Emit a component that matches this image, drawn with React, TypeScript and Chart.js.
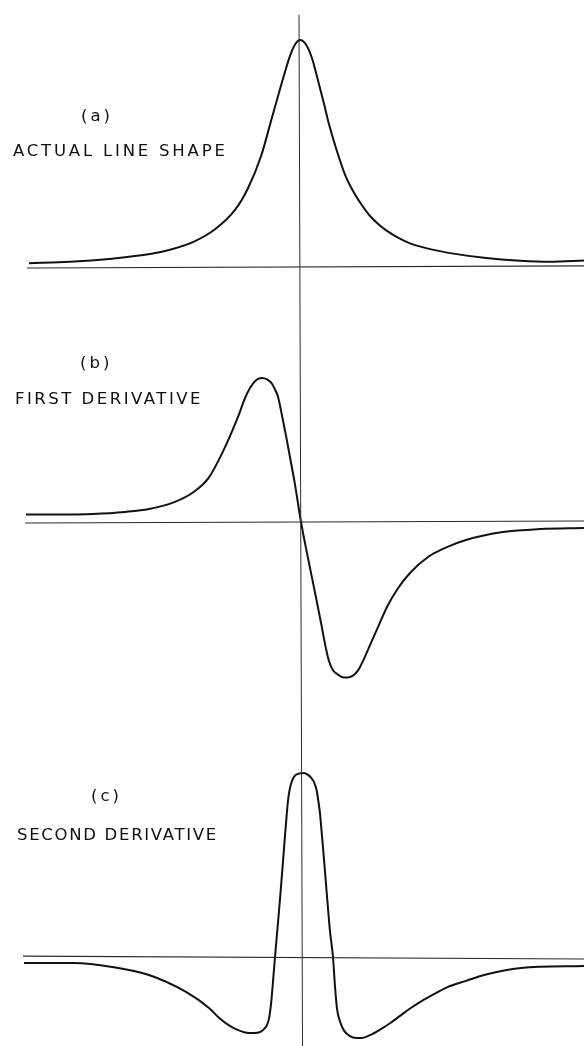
import React, { useEffect, useRef } from "react";
import { Chart, registerables } from "chart.js";

Chart.register(...registerables);

// (a) actual line shape: x offset from line centre (arb. units), normalised amplitude
const shapeX = [-27.0, -22.9, -18.7, -14.9, -13.1, -10.5, -8.4, -6.4, -5.1, -3.8, -2.7, -1.6, -0.9, -0.4, 0.1, 0.7, 1.3, 1.8, 2.5, 3.0, 3.6, 4.6, 5.5, 6.3, 7.1, 8.0, 8.8, 9.9, 11.1, 12.9, 15.6, 18.5, 22.1, 25.1, 28.5];
const shapeY = [0.021, 0.027, 0.041, 0.061, 0.078, 0.116, 0.17, 0.255, 0.35, 0.49, 0.66, 0.83, 0.93, 0.98, 1.0, 0.98, 0.92, 0.84, 0.72, 0.63, 0.54, 0.41, 0.33, 0.275, 0.228, 0.19, 0.163, 0.133, 0.108, 0.085, 0.062, 0.045, 0.032, 0.027, 0.033];

// (b) first derivative
const firstX = [-27.3, -23.9, -20.6, -17.4, -15.0, -12.4, -10.5, -9.0, -7.6, -6.1, -5.4, -4.9, -4.3, -3.7, -3.2, -2.7, -2.4, -2.1, -1.7, -1.3, -0.9, -0.4, 0.2, 1.0, 1.6, 2.2, 2.7, 3.0, 3.4, 3.9, 4.5, 5.1, 5.6, 6.0, 6.5, 7.0, 7.9, 8.8, 9.9, 11.1, 12.9, 14.8, 16.7, 20.4, 24.1, 28.5];
const firstY = [0.052, 0.052, 0.056, 0.07, 0.09, 0.14, 0.21, 0.31, 0.49, 0.73, 0.86, 0.93, 0.985, 1.0, 0.99, 0.96, 0.92, 0.87, 0.74, 0.6, 0.45, 0.26, 0.0, -0.285, -0.49, -0.7, -0.88, -0.965, -1.03, -1.06, -1.08, -1.076, -1.055, -1.02, -0.95, -0.87, -0.73, -0.59, -0.46, -0.354, -0.243, -0.174, -0.125, -0.07, -0.049, -0.042];

// (c) second derivative
const secondX = [-27.5, -22.5, -18.7, -15.0, -11.3, -9.0, -8.0, -7.0, -6.2, -5.4, -4.5, -3.8, -3.5, -3.2, -3.0, -2.85, -2.7, -2.55, -2.4, -2.2, -1.9, -1.6, -1.4, -1.25, -1.1, -0.95, -0.8, -0.6, -0.3, 0.1, 0.5, 0.9, 1.2, 1.5, 1.75, 1.9, 2.1, 2.2, 2.5, 2.8, 3.1, 3.4, 3.6, 3.8, 4.1, 4.5, 5.1, 5.7, 6.3, 7.1, 8.1, 9.1, 10.1, 11.1, 12.1, 12.9, 14.8, 16.7, 18.5, 22.2, 28.5];
const secondY = [-0.033, -0.033, -0.054, -0.098, -0.19, -0.277, -0.33, -0.372, -0.395, -0.41, -0.413, -0.405, -0.392, -0.37, -0.335, -0.28, -0.2, -0.1, 0.0, 0.125, 0.315, 0.52, 0.66, 0.76, 0.85, 0.905, 0.94, 0.97, 0.99, 0.998, 1.0, 0.99, 0.975, 0.95, 0.91, 0.86, 0.78, 0.72, 0.53, 0.33, 0.14, 0.0, -0.16, -0.28, -0.35, -0.4, -0.43, -0.44, -0.44, -0.425, -0.395, -0.36, -0.32, -0.28, -0.245, -0.22, -0.165, -0.13, -0.098, -0.06, -0.049];

// zero lines (baselines) of each trace: [start x, end x], [start y, end y]
const baseAX = [-27.2, 28.5];
const baseAY = [0, 0.009];
const baseBX = [-27.4, 28.5];
const baseBY = [-0.007, 0.007];
const baseCX = [-27.6, 28.5];
const baseCY = [0.005, -0.011];
// line-centre marker (x = 0), drawn in units of trace (a)
const centreX = [0, 0.35];
const centreY = [1.11, -3.412];

const labels = [
  { text: "(a)", left: 81, base: 122, ls: 3 },
  { text: "ACTUAL LINE SHAPE", left: 13, base: 157, ls: 2.8 },
  { text: "(b)", left: 80, base: 369, ls: 3 },
  { text: "FIRST DERIVATIVE", left: 15, base: 405, ls: 2.5 },
  { text: "(c)", left: 91, base: 802, ls: 3 },
  { text: "SECOND DERIVATIVE", left: 17, base: 841, ls: 1.7 },
];

const W = 584;
const H = 1046;
const zip = (xs: number[], ys: number[]) => xs.map((x, i) => ({ x, y: ys[i] }));

// y-axis ranges from the pixel row of each trace's zero line and its unit height
const range = (zeroPx: number, unitPx: number) => ({ min: (zeroPx - H) / unitPx, max: zeroPx / unitPx });

export default function App() {
  const ref = useRef<HTMLCanvasElement | null>(null);
  useEffect(() => {
    if (!ref.current) return;
    const curve = { borderColor: "#111", borderWidth: 2, pointRadius: 0, cubicInterpolationMode: "monotone" as const, fill: false, borderJoinStyle: "round" as const };
    const thin = { borderColor: "#2a2a2a", borderWidth: 1.2, pointRadius: 0, fill: false, tension: 0 };
    const ra = range(268, 228);
    const rb = range(522, 144);
    const rc = range(957, 184);
    const chart = new Chart(ref.current, {
      type: "line",
      data: {
        datasets: [
          { ...thin, data: zip(baseAX, baseAY), yAxisID: "ya" },
          { ...thin, data: zip(baseBX, baseBY), yAxisID: "yb" },
          { ...thin, data: zip(baseCX, baseCY), yAxisID: "yc" },
          { ...thin, borderWidth: 1, data: zip(centreX, centreY), yAxisID: "ya" },
          { ...curve, data: zip(shapeX, shapeY), yAxisID: "ya" },
          { ...curve, data: zip(firstX, firstY), yAxisID: "yb" },
          { ...curve, data: zip(secondX, secondY), yAxisID: "yc" },
        ],
      },
      options: {
        animation: false,
        responsive: false,
        events: [],
        layout: { padding: 0 },
        plugins: { legend: { display: false }, tooltip: { enabled: false } },
        scales: {
          x: { type: "linear", min: -29.9, max: 28.5, display: false },
          ya: { type: "linear", min: ra.min, max: ra.max, display: false },
          yb: { type: "linear", min: rb.min, max: rb.max, display: false },
          yc: { type: "linear", min: rc.min, max: rc.max, display: false },
        },
      },
    });
    return () => chart.destroy();
  }, []);

  const fs = 16.5;
  return (
    <div style={{ position: "fixed", left: 0, top: 0, width: W, height: H, background: "#fff", overflow: "hidden" }}>
      <canvas ref={ref} width={W} height={H} style={{ position: "absolute", left: 0, top: 0, width: W, height: H }} />
      {labels.map((l) => (
        <div
          key={l.text}
          style={{
            position: "absolute",
            left: l.left,
            top: l.base - 0.846 * fs,
            fontFamily: "'DejaVu Sans', sans-serif",
            fontSize: fs,
            lineHeight: 1,
            letterSpacing: l.ls,
            color: "#111",
            whiteSpace: "nowrap",
          }}
        >
          {l.text}
        </div>
      ))}
    </div>
  );
}
